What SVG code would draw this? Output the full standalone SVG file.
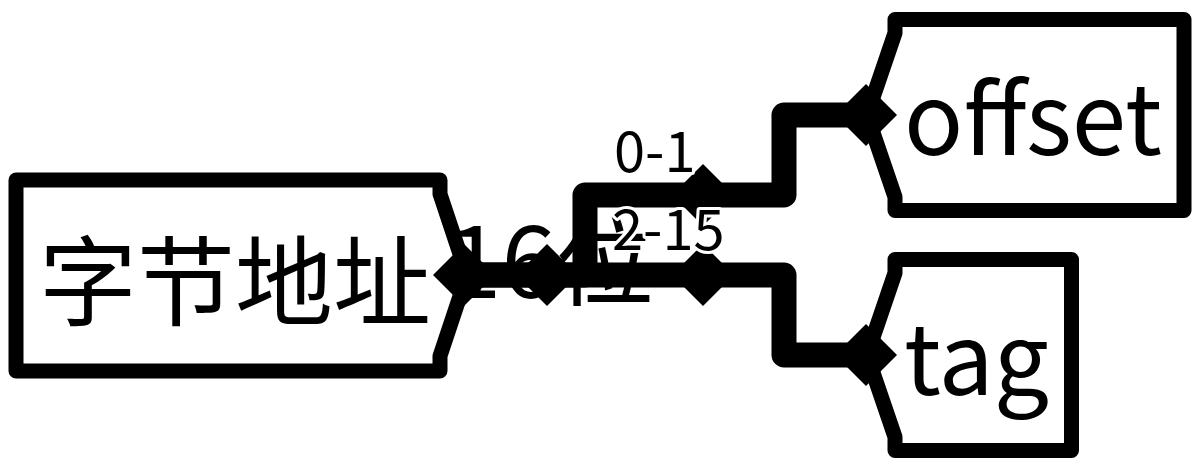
<svg xmlns="http://www.w3.org/2000/svg" width="1200" height="467" viewBox="0 0 1200 467">
<style>
.node{fill:#fff;stroke:#000;stroke-width:15;stroke-linejoin:round}
.wire{fill:none;stroke:#000;stroke-width:25;stroke-linejoin:round}
.lbl{font-family:"Noto Sans CJK SC","Noto Sans",sans-serif;font-size:98px;fill:#000}
.bit{font-family:"Noto Sans CJK SC","Noto Sans",sans-serif;font-size:56px;fill:#000;stroke:#fff;stroke-width:6;paint-order:stroke;stroke-linejoin:round}
.port{fill:#000}
</style>
<defs>
<polygon id="dia" points="0,-31 31,0 0,31 -31,0"/>
</defs>
<rect width="1200" height="467" fill="#fff"/>
<g id="node-addr">
<path class="node" d="M16,180 H440 V194 L467,275 L440,356 V371 H16 Z"/>
<text class="lbl" x="39" y="318">字节地址</text>
</g>
<g id="node-offset">
<path class="node" d="M895,19.5 H1184 V210.5 H895 V197 L867,115 L895,33 Z"/>
<text class="lbl" x="904" y="155">offset</text>
</g>
<g id="node-tag">
<path class="node" d="M895,259.5 H1071.5 V450.5 H895 V437 L867,355 L895,273 Z"/>
<text class="lbl" x="904" y="395">tag</text>
</g>
<g id="connectors">
<path class="wire" d="M466,275 H585 V195 H784 V115 H866"/>
<path class="wire" d="M466,275 H784 V355 H866"/>
<use href="#dia" class="port" x="464" y="275"/>
<use href="#dia" class="port" x="547" y="275"/>
<use href="#dia" class="port" x="703" y="195"/>
<use href="#dia" class="port" x="703" y="275"/>
<use href="#dia" class="port" x="866" y="115"/>
<use href="#dia" class="port" x="866" y="355"/>
<text class="lbl" x="447" y="298">16位</text>
<text class="bit" x="614" y="172">0-1</text>
<text class="bit" x="612" y="250">2-15</text>
</g>
</svg>
